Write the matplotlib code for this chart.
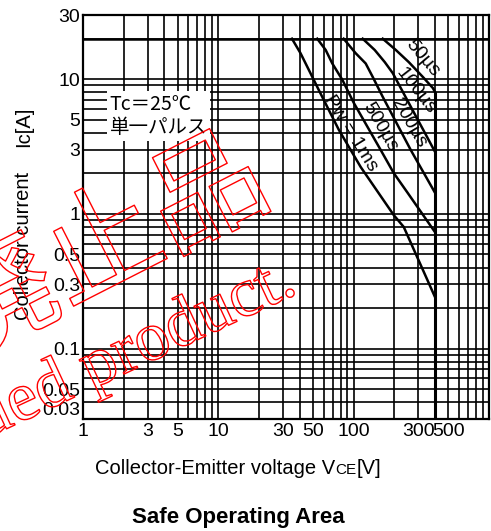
import matplotlib
matplotlib.use('Agg')
import matplotlib.pyplot as plt
import matplotlib.patheffects as pe

plt.rcParams['font.family'] = ['Liberation Sans', 'Noto Sans CJK JP', 'DejaVu Sans']

# SOA limits, Vce [V] vs Ic [A]
v_1ms = [35, 40.5, 46.7, 55.3, 65.6, 77.8, 112.7, 197.8, 234.5, 400]
i_1ms = [20, 15.6, 11.7, 8.3, 5.9, 4.2, 2.23, 0.98, 0.80, 0.24]
v_500us = [53.8, 62.1, 69.5, 82.5, 100, 127, 158.5, 197.8, 251, 400]
i_500us = [20, 16.5, 13.1, 9.9, 6.7, 4.4, 2.98, 2.01, 1.43, 0.73]
v_200us = [84.3, 103.5, 122.7, 138.3, 164, 264.3, 400]
i_200us = [20, 15.6, 13.1, 10.4, 7.4, 2.98, 1.43]
v_100us = [116.6, 143, 169.8, 194.5, 400]
i_100us = [20, 16.5, 13.4, 11.1, 2.88]
v_50us = [164, 204.8, 255.5, 324.5, 384.8, 400]
i_50us = [20, 16.5, 13.4, 10.4, 8.6, 8.0]
ic_max = 20
vce_max = 400

x_ticks = [1, 3, 5, 10, 30, 50, 100, 300, 500]
x_ticklabels = ['1', '3', '5', '10', '30', '50', '100', '300', '500']
y_ticks = [0.03, 0.05, 0.1, 0.3, 0.5, 1, 3, 5, 10, 30]
y_ticklabels = ['0.03', '0.05', '0.1', '0.3', '0.5', '1', '3', '5', '10', '30']

# curve labels: (text, V, I, angle)
curve_labels = [('50µs', 324, 14.4, -50),
                ('100µs', 287, 8.2, -52),
                ('200µs', 255, 4.7, -60),
                ('500µs', 156, 4.4, -60),
                ('Pw = 1ms', 95, 4.0, -58)]

xmin, xmax = 1, 1000
ymin, ymax = 0.03, 30

fig = plt.figure(figsize=(4.91, 5.31), dpi=100)
ax = fig.add_axes([83 / 491, 1 - 419 / 531, 406 / 491, 404 / 531])
ax.set_xscale('log')
ax.set_yscale('log')
ax.set_xlim(xmin, xmax)
ax.set_ylim(ymin, ymax)

# log paper grid: 1..9 in every decade
grid_x = [m * 10 ** e for e in range(0, 3) for m in range(1, 10)] + [1000]
grid_y = [m * 10 ** e for e in range(-2, 2) for m in range(1, 10)]
grid_y = [g for g in grid_y if ymin <= g <= ymax]
ax.set_xticks(grid_x, minor=True)
ax.set_yticks(grid_y, minor=True)
ax.set_xticks(x_ticks)
ax.set_xticklabels(x_ticklabels)
ax.set_yticks(y_ticks)
ax.set_yticklabels(y_ticklabels)
ax.set_xticklabels([], minor=True)
ax.set_yticklabels([], minor=True)
ax.grid(which='both', color='black', lw=1.2)
ax.set_axisbelow(True)
ax.tick_params(which='both', length=0, labelsize=14)
ax.tick_params(axis='x', pad=3)
ax.tick_params(axis='y', pad=2)
ax.get_yticklabels()[0].set_va('bottom')
for s in ax.spines.values():
    s.set_linewidth(1.6)

for v, i in [(v_1ms, i_1ms), (v_500us, i_500us), (v_200us, i_200us),
             (v_100us, i_100us), (v_50us, i_50us)]:
    ax.plot(v, i, color='black', lw=1.8, solid_joinstyle='round')
ax.axhline(ic_max, color='black', lw=1.8)
ax.vlines(vce_max, ymin, i_50us[-1], color='black', lw=2.2)

for txt, v, i, ang in curve_labels:
    ax.text(v, i, txt, rotation=ang, ha='center', va='center',
            fontsize=14, rotation_mode='anchor')

ax.text(0.066, 0.75, 'Tc＝25℃\n単一パルス', transform=ax.transAxes,
        ha='left', va='center', fontsize=14, linespacing=1.1,
        family=['Noto Sans CJK JP', 'DejaVu Sans'],
        bbox=dict(boxstyle='square,pad=0.15', fc='white', ec='none'))

# axis titles
fig.text(24 / 491, 1 - 246 / 531, 'Collector current', rotation=90,
         ha='center', va='center', fontsize=14.5)
fig.text(24 / 491, 1 - 127 / 531, 'Ic[A]', rotation=90,
         ha='center', va='center', fontsize=14.5)
t1 = fig.text(95 / 491, 1 - 468 / 531, 'Collector-Emitter voltage V',
              ha='left', va='center', fontsize=14.5)
t2 = ax.annotate('CE', xy=(1, 0), xycoords=t1, ha='left', va='bottom',
                 fontsize=11, annotation_clip=False)
ax.annotate('[V]', xy=(1, 0), xycoords=t2, ha='left', va='bottom',
            fontsize=14.5, annotation_clip=False)
fig.text(0.485, 1 - 518 / 531, 'Safe Operating Area', ha='center',
         va='center', fontsize=16, fontweight='bold')

# red outlined watermark (runs off the left edge, as in the scan)
outline = [pe.withStroke(linewidth=1.0, foreground='red')]
fig.text(104 / 491, 1 - 250 / 531, '廃止品', rotation=27, ha='center',
         va='center', fontsize=84, color='none', path_effects=outline,
         family=['Noto Sans CJK JP', 'DejaVu Sans'])
fig.text(300 / 491, 1 - 292 / 531, 'Discontinued product.', rotation=25,
         rotation_mode='anchor', ha='right', va='baseline', fontsize=50,
         color='none', path_effects=outline, family='Liberation Serif')

fig.savefig('out.png', dpi=100)
